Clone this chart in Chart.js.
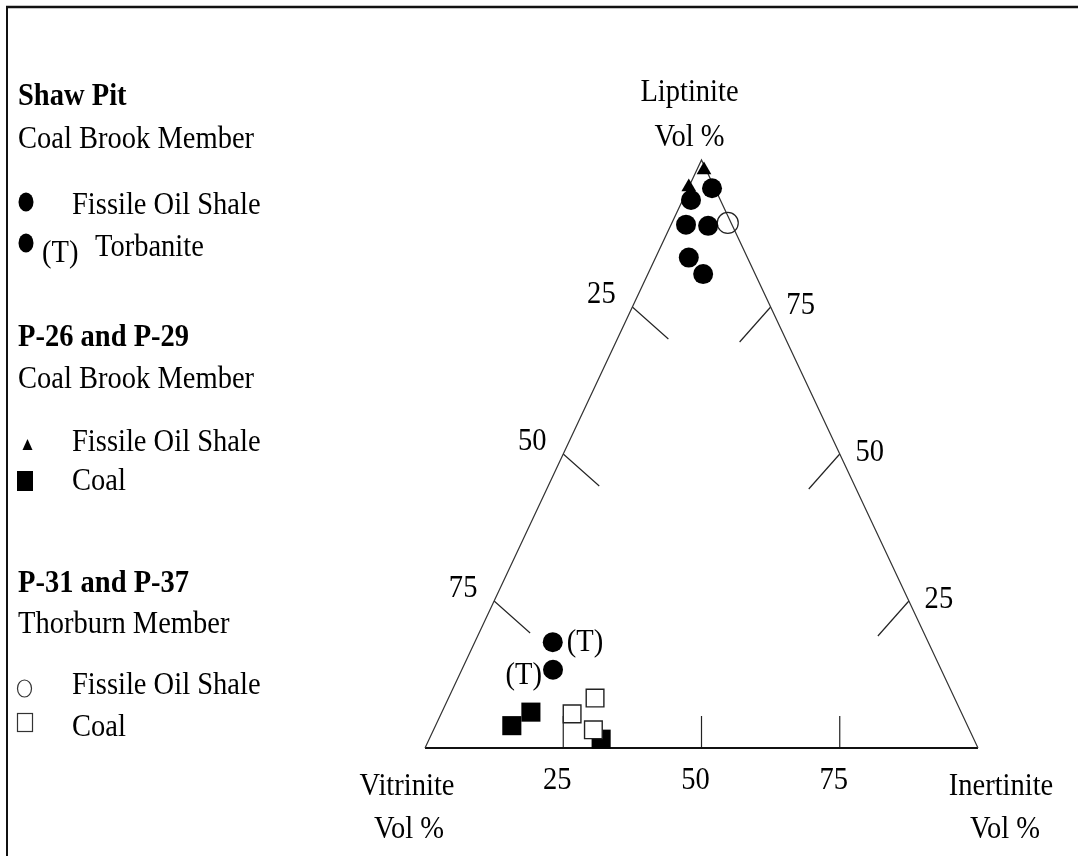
<!DOCTYPE html>
<html>
<head>
<meta charset="utf-8">
<script src="https://cdn.jsdelivr.net/npm/chart.js@4.4.0/dist/chart.umd.min.js"></script>
<style>
html,body{margin:0;padding:0;background:#fff;}
canvas{display:block;}
</style>
</head>
<body>
<canvas id="c" width="1078" height="856"></canvas>
<script>
// ---- Data (ternary compositions, vol %) ----
// Shaw Pit, Coal Brook Member — Fissile Oil Shale (filled circles)
const shawFissileVit = [0.5, 5.3, 8.3, 4.4, 10.6, 9.4];
const shawFissileIne = [4.3, 1.5, 2.7, 6.8, 6.0, 10.0];
const shawFissileLip = [95.2, 93.2, 89.0, 88.8, 83.4, 80.6];
// Shaw Pit — Torbanite (filled circles, labelled (T))
const shawTorbVit = [67.9, 70.2];
const shawTorbIne = [14.1, 16.5];
const shawTorbLip = [18.0, 13.3];
const torbLabels = ["(T)", "(T)"];
// P-26 and P-29, Coal Brook Member — Fissile Oil Shale (filled triangles)
const p26FissileVit = [0.4, 4.6];
const p26FissileIne = [1.3, 0.0];
const p26FissileLip = [98.3, 95.4];
// P-26 and P-29 — Coal (filled squares)
const p26CoalVit = [82.4, 77.8, 67.4];
const p26CoalIne = [13.8, 16.1, 31.1];
const p26CoalLip = [3.8, 6.1, 1.5];
// P-31 and P-37, Thorburn Member — Fissile Oil Shale (open circle)
const p31FissileVit = [0.6];
const p31FissileIne = [10.1];
const p31FissileLip = [89.3];
// P-31 and P-37 — Coal (open squares)
const p31CoalVit = [70.5, 65.0, 68.0];
const p31CoalIne = [23.7, 26.5, 28.9];
const p31CoalLip = [5.8, 8.5, 3.1];

// Axis ticks
const tickValues = [25, 50, 75];
const cornerNames = ["Vitrinite", "Inertinite", "Liptinite"];
const unitLabel = "Vol %";

// ---- ternary -> cartesian (x: 0..100 along base, y: liptinite 0..100) ----
function toXY(v, i, l) { return { x: i + l / 2, y: l }; }
function series(V, I, L) { return V.map((v, k) => toXY(v, I[k], L[k])); }

const cornerV = toXY(100, 0, 0), cornerI = toXY(0, 100, 0), cornerL = toXY(0, 0, 100);

const FONT = '"Liberation Serif", "Times New Roman", serif';
const black = '#000';
const SQUEEZE = 0.92;

// condensed serif text helper
function txt(ctx, s, x, y, align, weight) {
  ctx.save();
  ctx.font = (weight || '') + ' 31px ' + FONT;
  ctx.textAlign = align || 'left';
  ctx.textBaseline = 'alphabetic';
  ctx.translate(x, y);
  ctx.scale(SQUEEZE, 1);
  ctx.fillText(s, 0, 0);
  ctx.restore();
}

const frameAndLabels = {
  id: 'frameAndLabels',
  beforeDatasetsDraw(chart) {
    const ctx = chart.ctx, xs = chart.scales.x, ys = chart.scales.y;
    const P = p => ({ x: xs.getPixelForValue(p.x), y: ys.getPixelForValue(p.y) });
    ctx.save();
    ctx.strokeStyle = '#222';
    ctx.lineWidth = 1.2;
    tickValues.forEach(t => {
      // left side: vitrinite = t
      const a = P(toXY(t, 0, 100 - t));
      ctx.beginPath(); ctx.moveTo(a.x, a.y); ctx.lineTo(a.x + 36, a.y + 32); ctx.stroke();
      // right side: liptinite = t
      const b = P(toXY(0, 100 - t, t));
      ctx.beginPath(); ctx.moveTo(b.x, b.y); ctx.lineTo(b.x - 31, b.y + 35); ctx.stroke();
      // base: inertinite = t
      const c = P(toXY(100 - t, t, 0));
      ctx.beginPath(); ctx.moveTo(c.x, c.y); ctx.lineTo(c.x, c.y - 32); ctx.stroke();
    });
    ctx.restore();
  },
  afterDraw(chart) {
    const ctx = chart.ctx, xs = chart.scales.x, ys = chart.scales.y;
    const P = p => ({ x: xs.getPixelForValue(p.x), y: ys.getPixelForValue(p.y) });
    ctx.save();
    // outer frame lines
    ctx.strokeStyle = '#111';
    ctx.lineWidth = 2.5;
    ctx.beginPath(); ctx.moveTo(6, 7); ctx.lineTo(1078, 7); ctx.stroke();
    ctx.lineWidth = 2;
    ctx.beginPath(); ctx.moveTo(7, 7); ctx.lineTo(7, 856); ctx.stroke();

    ctx.fillStyle = black;

    // tick labels
    tickValues.forEach(t => {
      const a = P(toXY(t, 0, 100 - t));
      txt(ctx, String(t), a.x - 31, a.y - 4, 'center');
      const b = P(toXY(0, 100 - t, t));
      txt(ctx, String(t), b.x + 30, b.y + 7, 'center');
      const c = P(toXY(100 - t, t, 0));
      txt(ctx, String(t), c.x - 6, c.y + 41, 'center');
    });

    // corner titles
    const lp = P(cornerL), vp = P(cornerV), ip = P(cornerI);
    txt(ctx, cornerNames[2], lp.x - 12, 101, 'center');
    txt(ctx, unitLabel, lp.x - 12, 146, 'center');
    txt(ctx, cornerNames[0], vp.x - 18, 795, 'center');
    txt(ctx, unitLabel, vp.x - 16, 838, 'center');
    txt(ctx, cornerNames[1], ip.x + 23, 795, 'center');
    txt(ctx, unitLabel, ip.x + 27, 838, 'center');

    // (T) labels on torbanite points
    const ds = chart.getDatasetMeta(1);
    ds.data.forEach((pt, k) => {
      if (k === 0) txt(ctx, torbLabels[k], pt.x + 14, pt.y + 9, 'left');
      else txt(ctx, torbLabels[k], pt.x - 11, pt.y + 14, 'right');
    });

    // legend block
    txt(ctx, 'Shaw Pit', 18, 105, 'left', 'bold');
    txt(ctx, 'P-26 and P-29', 18, 346, 'left', 'bold');
    txt(ctx, 'P-31 and P-37', 18, 592, 'left', 'bold');
    txt(ctx, 'Coal Brook Member', 18, 148);
    txt(ctx, 'Fissile Oil Shale', 72, 214);
    txt(ctx, '(T)', 42, 262);
    txt(ctx, 'Torbanite', 95, 256);
    txt(ctx, 'Coal Brook Member', 18, 388);
    txt(ctx, 'Fissile Oil Shale', 72, 451);
    txt(ctx, 'Coal', 72, 490);
    txt(ctx, 'Thorburn Member', 18, 633);
    txt(ctx, 'Fissile Oil Shale', 72, 694);
    txt(ctx, 'Coal', 72, 736);

    // legend symbols
    ctx.fillStyle = black; ctx.strokeStyle = '#333';
    ctx.beginPath(); ctx.ellipse(26, 202, 7.5, 9.5, 0, 0, Math.PI * 2); ctx.fill();
    ctx.beginPath(); ctx.ellipse(26, 243, 7.5, 9.5, 0, 0, Math.PI * 2); ctx.fill();
    ctx.beginPath(); ctx.moveTo(27.5, 439); ctx.lineTo(32.5, 450); ctx.lineTo(22.5, 450); ctx.closePath(); ctx.fill();
    ctx.fillRect(17, 471, 16, 20);
    ctx.lineWidth = 1.2;
    ctx.beginPath(); ctx.ellipse(24.5, 688.5, 7, 8.5, 0, 0, Math.PI * 2); ctx.stroke();
    ctx.strokeRect(17.5, 713.5, 15, 18);
    ctx.restore();
  }
};

const circleStyle = { pointStyle: 'circle', pointRadius: 10, backgroundColor: black, borderColor: black, borderWidth: 0, showLine: false };

new Chart(document.getElementById('c'), {
  type: 'scatter',
  data: {
    datasets: [
      Object.assign({ label: 'Shaw Pit Fissile Oil Shale', data: series(shawFissileVit, shawFissileIne, shawFissileLip) }, circleStyle),
      Object.assign({ label: 'Shaw Pit Torbanite', data: series(shawTorbVit, shawTorbIne, shawTorbLip) }, circleStyle),
      { label: 'P-26/P-29 Fissile Oil Shale', data: series(p26FissileVit, p26FissileIne, p26FissileLip),
        pointStyle: 'triangle', pointRadius: 8.5, backgroundColor: black, borderColor: black, borderWidth: 0 },
      { label: 'P-31/P-37 Fissile Oil Shale', data: series(p31FissileVit, p31FissileIne, p31FissileLip),
        pointStyle: 'circle', pointRadius: 10.5, backgroundColor: 'rgba(255,255,255,0)', borderColor: '#222', borderWidth: 1.2 },
      { label: 'P-31/P-37 Coal', data: series(p31CoalVit, p31CoalIne, p31CoalLip),
        pointStyle: 'rect', pointRadius: 12.5, backgroundColor: '#fff', borderColor: '#222', borderWidth: 1.4 },
      { label: 'P-26/P-29 Coal', data: series(p26CoalVit, p26CoalIne, p26CoalLip),
        pointStyle: 'rect', pointRadius: 13.5, backgroundColor: black, borderColor: black, borderWidth: 0 },
      { label: 'Triangle sides', data: [cornerV, cornerL, cornerI], showLine: true, pointRadius: 0,
        borderColor: '#333', borderWidth: 1.2, order: 10 },
      { label: 'Base', data: [cornerV, cornerI], showLine: true, pointRadius: 0,
        borderColor: '#111', borderWidth: 2.2, order: 10 }
    ]
  },
  options: {
    responsive: false,
    animation: false,
    devicePixelRatio: 1,
    layout: { padding: { left: 425, right: 100, top: 160, bottom: 108 } },
    scales: {
      x: { type: 'linear', min: 0, max: 100, display: false },
      y: { type: 'linear', min: 0, max: 100, display: false }
    },
    elements: { point: { hoverRadius: 10 } },
    datasets: { scatter: { clip: false } },
    plugins: { legend: { display: false }, tooltip: { enabled: false } },
    events: []
  },
  plugins: [frameAndLabels]
});
</script>
</body>
</html>
